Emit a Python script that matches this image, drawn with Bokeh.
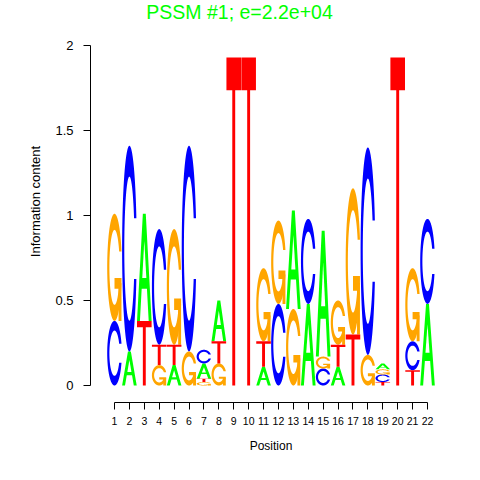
import numpy as np
from bokeh.plotting import figure
from bokeh.models import Range1d, FixedTicker, Label
from bokeh.embed import file_html
from bokeh.resources import INLINE

# ---------------- data ----------------
positions = list(range(1, 23))
# stacking order of letters at each position, bottom -> top
stack_order = ["CG", "AC", "TA", "GTC", "ATG", "GC", "GTAC", "GTA", "T", "T", "ATG",
               "CG", "GA", "AC", "CGA", "ATG", "TG", "GC", "TCGA", "T", "TCG", "AC"]
ic_A = [0, 0.20, 0.63, 0, 0.12, 0, 0.09, 0.24, 0, 0, 0.11,
        0, 0.58, 0.48, 0.74, 0.11, 0, 0, 0.035, 0, 0, 0.48]
ic_C = [0.38, 1.21, 0, 0.68, 0, 1.21, 0.08, 0, 0, 0, 0,
        0.48, 0, 0.50, 0.10, 0, 0, 1.22, 0.045, 0, 0.17, 0.50]
ic_G = [0.63, 0, 0, 0.12, 0.68, 0.20, 0.02, 0.13, 0, 0, 0.43,
        0.49, 0.45, 0, 0.07, 0.26, 0.86, 0.18, 0.03, 0, 0.43, 0]
ic_T = [0, 0, 0.38, 0.12, 0.12, 0, 0.02, 0.13, 1.93, 1.93, 0.15,
        0, 0, 0, 0, 0.13, 0.30, 0, 0.02, 1.93, 0.09, 0]
y_ticks = [0, 0.5, 1, 1.5, 2]
y_tick_labels = ["0", "0.5", "1", "1.5", "2"]
title_text = "PSSM #1; e=2.2e+04"
x_label = "Position"
y_label = "Information content"

heights = {"A": ic_A, "C": ic_C, "G": ic_G, "T": ic_T}
colors = {"A": "#00FF00", "C": "#0000FF", "G": "#FFA500", "T": "#FF0000"}

# ---------------- letter outlines in a unit box ----------------
def ring_shape():
    a1 = np.linspace(0.3 + np.pi / 2, np.pi, 100)
    a2 = np.linspace(np.pi, 1.5 * np.pi, 100)
    xl1 = 0.5 + 0.5 * np.sin(a1); yl1 = 0.5 + 0.5 * np.cos(a1)
    xl2 = 0.5 + 0.5 * np.sin(a2); yl2 = 0.5 + 0.5 * np.cos(a2)
    xl = np.concatenate([xl1, xl2]); yl = np.concatenate([yl1, yl2])
    x = np.concatenate([xl, xl[::-1]]); y = np.concatenate([yl, 1 - yl[::-1]])
    xi1 = 0.5 + 0.35 * np.sin(a1); yi1 = 0.5 + 0.35 * np.cos(a1)
    keep = yi1 <= yl1.max()
    xi1 = xi1[keep]; yi1 = yi1[keep].copy(); yi1[0] = yl1.max()
    xi2 = 0.5 + 0.35 * np.sin(a2); yi2 = 0.5 + 0.35 * np.cos(a2)
    xi = np.concatenate([xi1, xi2]); yi = np.concatenate([yi1, yi2])
    x1 = np.concatenate([xi, xi[::-1]]); y1 = np.concatenate([yi, 1 - yi[::-1]])
    return np.concatenate([x, x1[::-1]]), np.concatenate([y, y1[::-1]]), xl1.max()

RX, RY, R1 = ring_shape()
SHAPES = {
    "A": [(np.array([0, 4, 6, 10, 8, 6.8, 3.2, 2, 0]) * 0.1,
           np.array([0, 10, 10, 0, 0, 3, 3, 0, 0]) * 0.1)],
    "C": [(RX, RY)],
    "G": [(RX, RY),
          (np.array([R1, 0.5, 0.5, R1 - 0.2, R1 - 0.2, R1, R1]),
           np.array([0.4, 0.4, 0.3, 0.3, 0, 0, 0.4]))],
    "T": [(np.array([0, 10, 10, 6, 6, 4, 4, 0]) * 0.1,
           np.array([10, 10, 9, 9, 0, 0, 9, 9]) * 0.1)],
}
A_HOLE = (np.array([3.6, 5, 6.4, 3.6]) * 0.1, np.array([4, 7.5, 4, 4]) * 0.1)

# ---------------- figure geometry ----------------
W, H = 464, 464
left, right, top, bottom = 90, 13, 0, 62
px_per_pos = 14.905
px_per_ic = 170.0
x_lo = 1 - 24 / px_per_pos
x_hi = x_lo + (W - left - right) / px_per_pos
y_lo = -17 / px_per_ic
y_hi = y_lo + (H - top - bottom) / px_per_ic

p = figure(width=W, height=H, x_range=Range1d(x_lo, x_hi), y_range=Range1d(y_lo, y_hi),
           output_backend="svg", toolbar_location=None,
           min_border_left=left, min_border_right=right,
           min_border_top=top, min_border_bottom=bottom)
p.title.visible = False
p.outline_line_color = None
p.grid.visible = False
p.background_fill_color = "white"
p.border_fill_color = "white"

# ---------------- build letters ----------------
wid = 0.98
patch_xs = {k: [] for k in "ACGT"}
patch_ys = {k: [] for k in "ACGT"}
hole_xs, hole_ys = [], []
for i, pos in enumerate(positions):
    base = 0.0
    for letter in stack_order[i]:
        h = heights[letter][i]
        if h <= 0:
            continue
        x0 = pos - wid / 2
        for sx, sy in SHAPES[letter]:
            patch_xs[letter].append(list(x0 + wid * sx))
            patch_ys[letter].append(list(base + h * sy))
        if letter == "A":
            hole_xs.append(list(x0 + wid * A_HOLE[0]))
            hole_ys.append(list(base + h * A_HOLE[1]))
        base += h

for letter in "ACGT":
    if patch_xs[letter]:
        p.patches(patch_xs[letter], patch_ys[letter], fill_color=colors[letter],
                  line_color=None)
p.patches(hole_xs, hole_ys, fill_color="white", line_color=None)

# ---------------- axes ----------------
font = "Liberation Sans"
p.xaxis.ticker = FixedTicker(ticks=positions)
p.xaxis.bounds = (positions[0], positions[-1])
p.xaxis.major_label_overrides = {v: str(v) for v in positions}
p.yaxis.ticker = FixedTicker(ticks=y_ticks)
p.yaxis.bounds = (y_ticks[0], y_ticks[-1])
p.yaxis.major_label_overrides = {t: l for t, l in zip(y_ticks, y_tick_labels)}
for ax in (p.xaxis, p.yaxis):
    ax.axis_line_color = "black"
    ax.major_tick_line_color = "black"
    ax.minor_tick_line_color = None
    ax.major_tick_in = 0
    ax.major_tick_out = 7
    ax.major_label_text_font = font
    ax.major_label_text_color = "black"
    ax.axis_label_text_font = font
    ax.axis_label_text_font_style = "normal"
    ax.axis_label_text_color = "black"
p.xaxis.major_label_text_font_size = "10.5px"
p.xaxis.major_label_standoff = 7
p.xaxis.axis_label = x_label
p.xaxis.axis_label_text_font_size = "12px"
p.xaxis.axis_label_standoff = 11
p.yaxis.major_label_text_font_size = "13px"
p.yaxis.major_label_standoff = 10
p.yaxis.axis_label = y_label
p.yaxis.axis_label_text_font_size = "13px"
p.yaxis.axis_label_standoff = 9

# ---------------- title ----------------
title_x = positions[0] + (239 - (left + 24)) / px_per_pos
p.add_layout(Label(x=title_x, y=y_hi, text=title_text, text_align="center",
                   text_baseline="top", text_font=font, text_font_size="19.5px",
                   text_color="#00FF00"))

open("out.html", "w").write(file_html(p, INLINE))
